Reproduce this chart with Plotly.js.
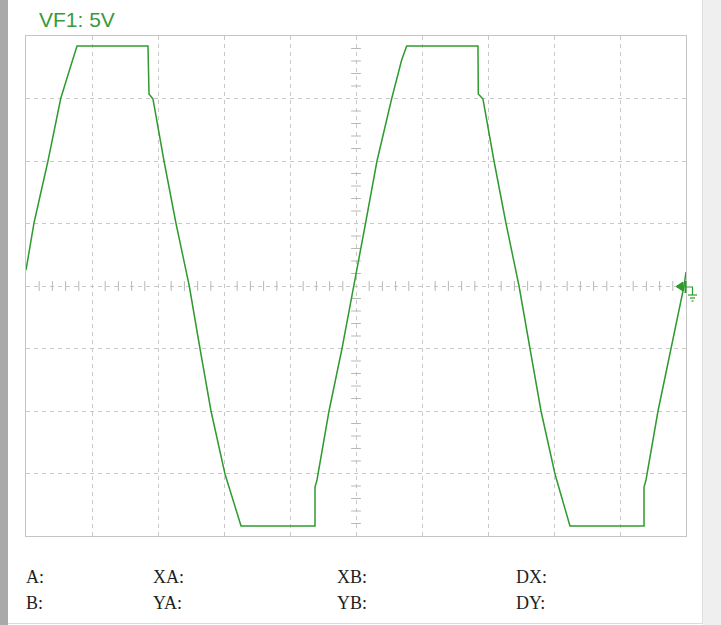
<!DOCTYPE html>
<html>
<head>
<meta charset="utf-8">
<script src="https://cdn.plot.ly/plotly-3.0.1.min.js"></script>
<style>
html,body{margin:0;padding:0;background:#fff;}
#chart{width:721px;height:625px;}
</style>
</head>
<body>
<div id="chart"></div>
<script>
// Time axis in screen divisions (10 divisions across), voltage in volts (5 V/div)
const timeDiv = [0, 0.121, 0.333, 0.526, 0.692, 0.773, 1.848, 1.864, 1.924, 2.091, 2.273, 2.474, 2.636, 2.803, 3.015, 3.258, 4.379, 4.379, 4.409, 4.591, 4.788, 4.970,
                 5.144, 5.318, 5.541, 5.692, 5.768, 6.848, 6.853, 6.924, 7.091, 7.273, 7.470, 7.636, 7.803, 8.015, 8.242, 9.364, 9.364, 9.394, 9.576, 9.773, 9.970, 10.0];
const voltsVF1 = [1.28, 5.04, 10.0, 15.0, 17.84, 19.2, 19.2, 15.36, 14.96, 10.0, 5.0, 0, -5.0, -10.0, -15.04, -19.2, -19.2, -16.08, -15.52, -10.0, -5.0, 0,
                  5.0, 10.0, 15.0, 18.08, 19.2, 19.2, 15.36, 14.96, 10.0, 5.0, 0, -5.0, -10.0, -15.04, -19.2, -19.2, -16.08, -15.52, -10.0, -5.0, 0, 1.12];
const channelTitle = 'VF1: 5V';
const cursorLabelsRow1 = ['A:', 'XA:', 'XB:', 'DX:'];
const cursorLabelsRow2 = ['B:', 'YA:', 'YB:', 'DY:'];

const xDivs = 10, yRange = [-20, 20], voltsPerDiv = 5;
const traceColor = '#2f9a2f';
const gridColor = '#c8c8c8';

// pixel -> paper helpers (plot area: x 26..686, y 36..536)
const L = 26, R = 686, T = 36, B = 536;
const px = x => (x - L) / (R - L);
const py = y => (B - y) / (B - T);

// minor ticks on centre graticule lines
const mx = [], my = [];
for (let i = 1; i < xDivs * 5; i++) { if (i % 5) { mx.push(i * 0.2); my.push(0); } }
const vx = [], vy = [];
for (let j = yRange[0] + 1; j < yRange[1]; j++) { if (j % voltsPerDiv) { vx.push(xDivs / 2); vy.push(j); } }

const traces = [
  {x: mx, y: my, type: 'scatter', mode: 'markers', hoverinfo: 'skip',
   marker: {symbol: 'line-ns', size: 7, line: {color: '#b8b8b8', width: 1}}},
  {x: vx, y: vy, type: 'scatter', mode: 'markers', hoverinfo: 'skip',
   marker: {symbol: 'line-ew', size: 7, line: {color: '#b8b8b8', width: 1}}},
  {x: timeDiv, y: voltsVF1, type: 'scatter', mode: 'lines',
   line: {color: traceColor, width: 1.5}, cliponaxis: false}
];

const colX = [24, 151, 335, 514];
const annotations = [];
[cursorLabelsRow1, cursorLabelsRow2].forEach((row, r) => {
  row.forEach((t, c) => {
    annotations.push({text: t, xref: 'paper', yref: 'paper', x: px(colX[c]), y: py(r === 0 ? 577 : 603),
      xanchor: 'left', yanchor: 'middle', showarrow: false,
      font: {family: 'Liberation Serif, Times New Roman, serif', size: 18, color: '#1e1e1e'}});
  });
});

const g = traceColor;
const shapes = [
  {type: 'rect', xref: 'paper', yref: 'paper', x0: px(0), x1: px(8), y0: py(625), y1: py(0), fillcolor: '#a9a9a9', line: {width: 0}, layer: 'below'},
  {type: 'rect', xref: 'paper', yref: 'paper', x0: px(703), x1: px(721), y0: py(625), y1: py(0), fillcolor: '#efefef', line: {width: 0}, layer: 'below'},
  {type: 'line', xref: 'paper', yref: 'paper', x0: px(702.5), x1: px(702.5), y0: py(0), y1: py(623.5), line: {color: '#e0e0e0', width: 1}},
  {type: 'line', xref: 'paper', yref: 'paper', x0: px(8), x1: px(703), y0: py(623.5), y1: py(623.5), line: {color: '#dcdcdc', width: 1}},
  // ground reference marker
  {type: 'path', xref: 'paper', yref: 'paper', path: `M ${px(676)} ${py(286.5)} L ${px(683)} ${py(282)} L ${px(683)} ${py(291)} Z`, fillcolor: g, line: {color: g, width: 1}},
  {type: 'line', xref: 'paper', yref: 'paper', x0: px(685.5), x1: px(685.5), y0: py(281), y1: py(293), line: {color: g, width: 2}},
  {type: 'path', xref: 'paper', yref: 'paper', path: `M ${px(686)} ${py(287)} L ${px(692.5)} ${py(287)} L ${px(692.5)} ${py(295)}`, line: {color: g, width: 1.2}},
  {type: 'line', xref: 'paper', yref: 'paper', x0: px(688), x1: px(697), y0: py(295), y1: py(295), line: {color: g, width: 1.2}},
  {type: 'line', xref: 'paper', yref: 'paper', x0: px(690), x1: px(695), y0: py(298), y1: py(298), line: {color: g, width: 1.2}},
  {type: 'line', xref: 'paper', yref: 'paper', x0: px(691.5), x1: px(693.5), y0: py(301), y1: py(301), line: {color: g, width: 1.2}}
];

const axisCommon = {
  showgrid: true, gridcolor: gridColor, gridwidth: 1, griddash: '4px,4px',
  showticklabels: false, ticks: '', zeroline: false,
  showline: true, mirror: true, linecolor: '#c4c4c4', linewidth: 1, fixedrange: true
};

const layout = {
  width: 721, height: 625,
  margin: {l: L, r: 721 - R, t: T, b: 625 - B, pad: 0},
  paper_bgcolor: '#ffffff', plot_bgcolor: '#ffffff',
  showlegend: false,
  title: {text: channelTitle, xref: 'container', yref: 'container', x: 39 / 721, xanchor: 'left', y: 1 - 20 / 625, yanchor: 'middle',
          font: {family: 'Liberation Sans, Arial, sans-serif', size: 21, color: '#3a9a3a'}},
  xaxis: Object.assign({range: [0, xDivs], tick0: 0, dtick: 1}, axisCommon),
  yaxis: Object.assign({range: yRange, tick0: 0, dtick: voltsPerDiv}, axisCommon),
  shapes: shapes,
  annotations: annotations
};

Plotly.newPlot('chart', traces, layout, {displayModeBar: false, staticPlot: true});
</script>
</body>
</html>
